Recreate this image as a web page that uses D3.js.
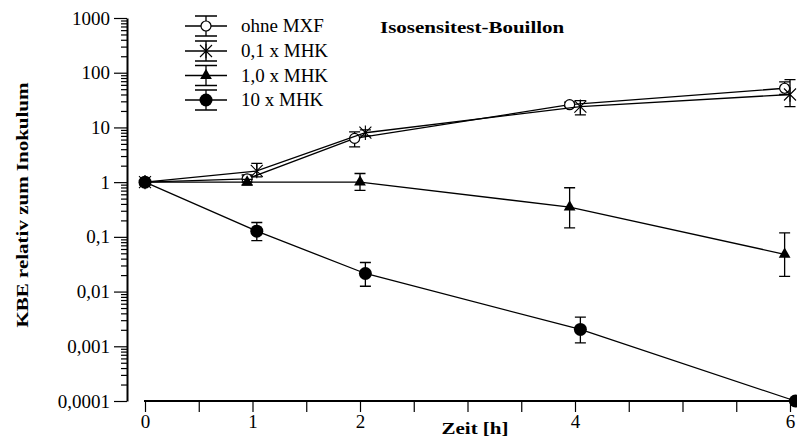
<!DOCTYPE html>
<html>
<head>
<meta charset="utf-8">
<script src="https://cdn.jsdelivr.net/npm/d3@7"></script>
<style>
  body { margin: 0; background: white; }
</style>
</head>
<body>
<script>
// data
const seriesNames = ['ohne MXF', '0,1 x MHK', '1,0 x MHK', '10 x MHK']
const seriesSymbols = ['openCircle', 'asterisk', 'triangle', 'dot']
const times = [
    [0, 0.95, 1.95, 3.95, 5.95],
    [0, 1.04, 2.05, 4.05, 6.0],
    [0, 0.95, 2.0, 3.95, 5.95],
    [0, 1.04, 2.05, 4.05, 6.05]
]
const values = [
    [1, 1.15, 6.3, 26, 52],
    [1, 1.6, 8.0, 24, 40],
    [1, 1.0, 1.0, 0.35, 0.048],
    [1, 0.127, 0.0214, 0.00203, 0.0001]
]
const errLow = [
    [1, 1.0, 4.4, 24, 40],
    [1, 1.25, 7.0, 17, 24],
    [1, 0.88, 0.71, 0.146, 0.019],
    [1, 0.085, 0.0125, 0.00115, 0.0001]
]
const errHigh = [
    [1, 1.35, 8.3, 29, 68],
    [1, 2.2, 9.0, 31, 75],
    [1, 1.12, 1.44, 0.79, 0.118],
    [1, 0.183, 0.034, 0.0034, 0.0001]
]
const yTicks = [1000, 100, 10, 1, 0.1, 0.01, 0.001, 0.0001]
const yTickLabels = ['1000', '100', '10', '1', '0,1', '0,01', '0,001', '0,0001']
const xTicks = [0, 0.5, 1, 1.5, 2, 2.5, 3, 3.5, 4, 4.5, 5, 5.5, 6]
const xLabelled = [0, 1, 2, 4, 6]

const serif = 'Liberation Serif'

function main(){
    const width = 797
    const height = 439

    let svg = d3.select('body')
        .append('svg')
        .attr('width', width)
        .attr('height', height)
        .attr('font-family', serif)

    let x = d3.scaleLinear()
        .domain([0, 6])
        .range([145, 790])
    let y = d3.scaleLog()
        .domain([0.0001, 1000])
        .range([401, 18])

    // y axis, major + minor ticks
    let minor = []
    for (let e = -4; e < 3; e++) {
        for (let k = 2; k <= 9; k++) minor.push(k * Math.pow(10, e))
    }
    let yMinor = svg.append('g')
        .attr('transform', 'translate(127,0)')
        .call(d3.axisLeft(y).tickValues(minor).tickSize(6).tickFormat(''))
    let yAxis = svg.append('g')
        .attr('transform', 'translate(127,0)')
        .call(d3.axisLeft(y).tickValues(yTicks).tickSize(13).tickSizeOuter(0).tickPadding(4)
            .tickFormat((d, i) => yTickLabels[i]))
    yMinor.select('.domain').remove()
    yAxis.select('.domain').attr('stroke-width', 2)
    svg.selectAll('.tick line').attr('stroke-width', 1.2)
    yAxis.attr('font-family', serif).attr('font-size', 19)

    // x axis
    let xAxis = svg.append('g')
        .attr('transform', 'translate(0,401)')
        .call(d3.axisBottom(x).tickValues(xTicks).tickSize(11).tickSizeOuter(0).tickPadding(3)
            .tickFormat(d => xLabelled.includes(d) ? d : ''))
    xAxis.select('.domain')
        .attr('d', `M${x.range()[0] - 1},0H${width}`)
        .attr('stroke-width', 2.2)
    xAxis.selectAll('.tick line').attr('stroke-width', 1.2)
    xAxis.attr('font-family', serif).attr('font-size', 19)

    // symbols
    function drawSymbol(g, kind, cx, cy) {
        if (kind == 'openCircle') {
            g.append('circle').attr('cx', cx).attr('cy', cy).attr('r', 5)
                .attr('fill', 'white').attr('stroke', 'black').attr('stroke-width', 1.2)
        } else if (kind == 'dot') {
            g.append('circle').attr('cx', cx).attr('cy', cy).attr('r', 6.5)
                .attr('fill', 'black')
        } else if (kind == 'triangle') {
            g.append('path')
                .attr('d', d3.symbol().type(d3.symbolTriangle).size(60)())
                .attr('transform', `translate(${cx},${cy})`)
                .attr('fill', 'black')
        } else {
            let s = 6
            g.append('path')
                .attr('d', `M${cx - s},${cy - s}L${cx + s},${cy + s}M${cx - s},${cy + s}L${cx + s},${cy - s}M${cx},${cy - s * 1.2}L${cx},${cy + s * 1.2}`)
                .attr('stroke', 'black').attr('stroke-width', 1.1).attr('fill', 'none')
        }
    }

    let line = d3.line()
        .x(d => x(d[0]))
        .y(d => y(d[1]))

    seriesNames.forEach((name, s) => {
        let g = svg.append('g')
        let pts = times[s].map((t, i) => [t, values[s][i]])
        g.append('path')
            .datum(pts)
            .attr('d', line)
            .attr('fill', 'none')
            .attr('stroke', 'black')
            .attr('stroke-width', 1.3)
        times[s].forEach((t, i) => {
            let cx = x(t)
            let y0 = y(errLow[s][i])
            let y1 = y(errHigh[s][i])
            if (Math.abs(y0 - y1) > 2) {
                g.append('path')
                    .attr('d', `M${cx},${y0}V${y1}M${cx - 5.5},${y0}H${cx + 5.5}M${cx - 5.5},${y1}H${cx + 5.5}`)
                    .attr('stroke', 'black')
                    .attr('stroke-width', 1.3)
                    .attr('fill', 'none')
            }
            drawSymbol(g, seriesSymbols[s], cx, y(values[s][i]))
        })
    })

    // legend
    let legendY = [26, 51, 75.5, 100]
    seriesNames.forEach((name, s) => {
        let g = svg.append('g')
        let ly = legendY[s]
        g.append('path')
            .attr('d', `M185,${ly}H227M206,${ly - 10}V${ly + 10}M195,${ly - 10}H217M195,${ly + 10}H217`)
            .attr('stroke', 'black')
            .attr('stroke-width', 1.3)
            .attr('fill', 'none')
        drawSymbol(g, seriesSymbols[s], 206, ly)
        g.append('text')
            .attr('x', 241)
            .attr('y', ly + 6)
            .attr('font-size', 19)
            .text(name)
    })

    // bold labels, a bit wider than plain Times
    svg.append('text')
        .attr('transform', 'translate(380,33) scale(1.2,1)')
        .attr('font-size', 17.5)
        .attr('font-weight', 'bold')
        .text('Isosensitest-Bouillon')

    svg.append('text')
        .attr('transform', 'translate(475,434) scale(1.2,1)')
        .attr('text-anchor', 'middle')
        .attr('font-size', 17.5)
        .attr('font-weight', 'bold')
        .text('Zeit [h]')

    svg.append('text')
        .attr('transform', 'translate(28,205) rotate(-90) scale(1.2,1)')
        .attr('text-anchor', 'middle')
        .attr('font-size', 17.5)
        .attr('font-weight', 'bold')
        .text('KBE relativ zum Inokulum')
}

main()
</script>
</body>
</html>
